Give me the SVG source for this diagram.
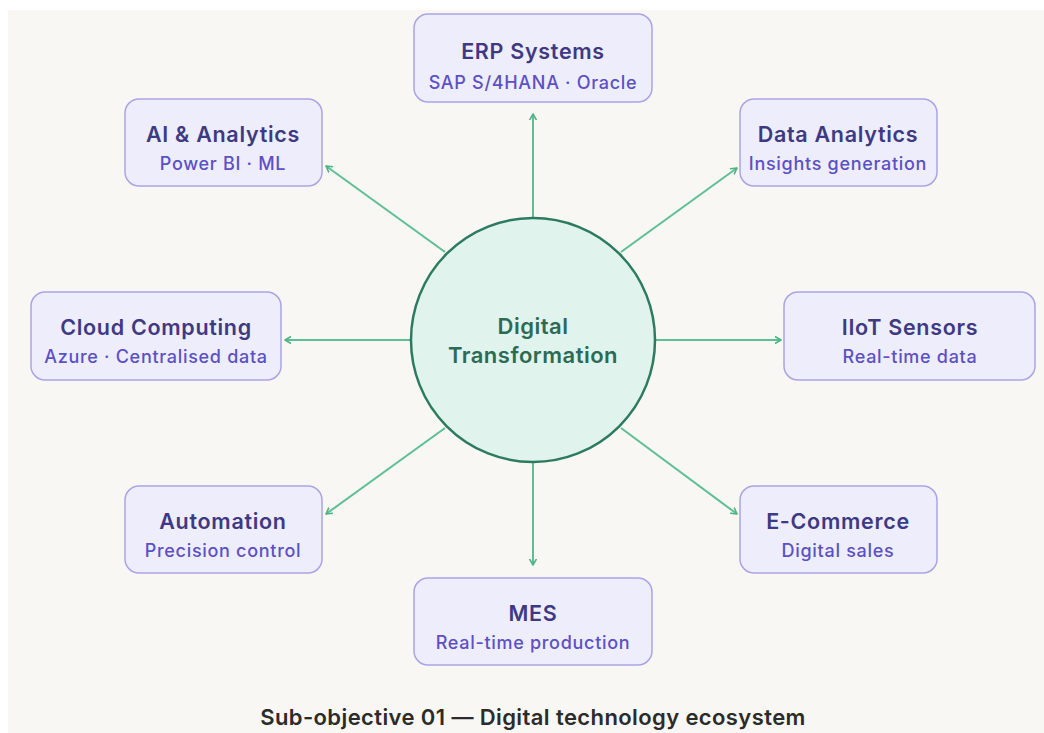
<svg xmlns="http://www.w3.org/2000/svg" width="1044" height="733" viewBox="0 0 1044 733">
  <defs>
    <marker id="arrow" viewBox="0 0 10 10" refX="8" refY="5" markerWidth="8" markerHeight="8" markerUnits="userSpaceOnUse" orient="auto">
      <path d="M1,1 L8,5 L1,9" fill="none" stroke="#4fb287" stroke-width="2" stroke-linecap="round" stroke-linejoin="round"/>
    </marker>
    <style>
      .box { fill: #eeedfb; stroke: #aaa4e6; stroke-width: 1.5; }
      .title { font-family: Inter, "Noto Sans", "Liberation Sans", sans-serif; font-size: 21.5px; font-weight: 600; letter-spacing: 0.7px; fill: #3e3983; text-anchor: middle; }
      .sub { font-family: Inter, "Noto Sans", "Liberation Sans", sans-serif; font-size: 18px; font-weight: 500; letter-spacing: 0.7px; fill: #5b50c6; text-anchor: middle; }
      .conn { stroke: #5dbf94; stroke-width: 2; fill: none; marker-end: url(#arrow); }
      .hub { fill: #e0f3ec; stroke: #2c7b60; stroke-width: 2.5; }
      .hubtext { font-family: Inter, "Noto Sans", "Liberation Sans", sans-serif; font-size: 22px; font-weight: 600; letter-spacing: 0.5px; fill: #2b6b55; text-anchor: middle; }
      .caption { font-family: Inter, "Noto Sans", "Liberation Sans", sans-serif; font-size: 22px; font-weight: 600; letter-spacing: 0.4px; fill: #2b2b2b; text-anchor: middle; }
    </style>
  </defs>

  <rect x="0" y="0" width="1044" height="733" fill="#ffffff"/>
  <rect x="8" y="10" width="1036" height="723" fill="#f8f7f3"/>

  <!-- connectors from the hub to each node -->
  <g id="connectors">
    <line class="conn" x1="533" y1="218" x2="533" y2="114"/>
    <line class="conn" x1="533" y1="462" x2="533" y2="565"/>
    <line class="conn" x1="411" y1="340" x2="285" y2="340"/>
    <line class="conn" x1="655" y1="340" x2="781" y2="340"/>
    <line class="conn" x1="445" y1="252" x2="326" y2="166"/>
    <line class="conn" x1="621" y1="252" x2="737" y2="168"/>
    <line class="conn" x1="445" y1="428" x2="326" y2="514"/>
    <line class="conn" x1="621" y1="428" x2="737" y2="514"/>
  </g>

  <g id="hub">
    <circle class="hub" cx="533" cy="340" r="122"/>
    <text class="hubtext" x="533" y="334">Digital</text>
    <text class="hubtext" x="533" y="363">Transformation</text>
  </g>

  <g id="erp">
    <rect class="box" x="414" y="14" width="238" height="88" rx="14"/>
    <text class="title" x="533" y="59">ERP Systems</text>
    <text class="sub" x="533" y="89">SAP S/4HANA · Oracle</text>
  </g>

  <g id="ai-analytics">
    <rect class="box" x="125" y="99" width="197" height="87" rx="14"/>
    <text class="title" x="223" y="142">AI &amp; Analytics</text>
    <text class="sub" x="223" y="170">Power BI · ML</text>
  </g>

  <g id="data-analytics">
    <rect class="box" x="740" y="99" width="197" height="87" rx="14"/>
    <text class="title" x="838" y="142">Data Analytics</text>
    <text class="sub" x="838" y="170">Insights generation</text>
  </g>

  <g id="cloud">
    <rect class="box" x="31" y="292" width="250" height="88" rx="14"/>
    <text class="title" x="156" y="335">Cloud Computing</text>
    <text class="sub" x="156" y="363">Azure · Centralised data</text>
  </g>

  <g id="iiot">
    <rect class="box" x="784" y="292" width="251" height="88" rx="14"/>
    <text class="title" x="910" y="335">IIoT Sensors</text>
    <text class="sub" x="910" y="363">Real-time data</text>
  </g>

  <g id="automation">
    <rect class="box" x="125" y="486" width="197" height="87" rx="14"/>
    <text class="title" x="223" y="529">Automation</text>
    <text class="sub" x="223" y="557">Precision control</text>
  </g>

  <g id="ecommerce">
    <rect class="box" x="740" y="486" width="197" height="87" rx="14"/>
    <text class="title" x="838" y="529">E-Commerce</text>
    <text class="sub" x="838" y="557">Digital sales</text>
  </g>

  <g id="mes">
    <rect class="box" x="414" y="578" width="238" height="87" rx="14"/>
    <text class="title" x="533" y="621">MES</text>
    <text class="sub" x="533" y="649">Real-time production</text>
  </g>

  <text class="caption" x="533" y="725">Sub-objective 01 — Digital technology ecosystem</text>
</svg>
